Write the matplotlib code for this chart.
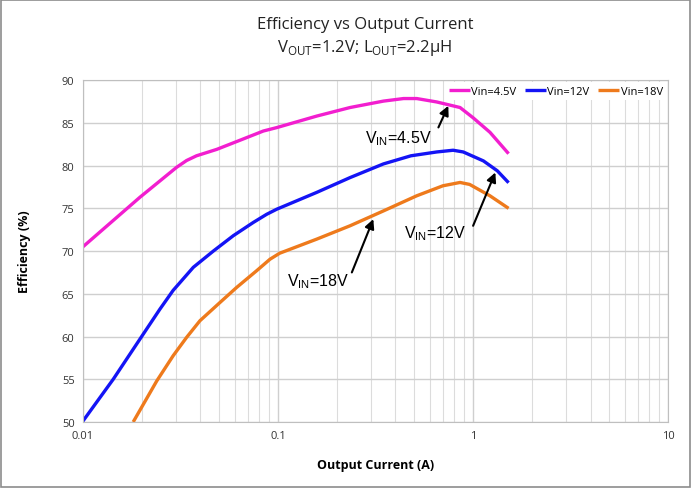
import matplotlib
matplotlib.use('Agg')
import matplotlib.pyplot as plt
from matplotlib.patches import Rectangle

plt.rcParams['font.family'] = ['Open Sans', 'DejaVu Sans']

# data
i_45 = [0.01, 0.0196, 0.0302, 0.034, 0.0382, 0.0485, 0.066,
        0.0841, 0.0985, 0.158, 0.234, 0.347, 0.44, 0.514, 0.651, 0.857,
        1.0, 1.22, 1.52]
eff_45 = [70.5, 76.3, 79.8, 80.6, 81.15, 81.9, 83.1,
          84.05, 84.45, 85.8, 86.8, 87.55, 87.85, 87.85, 87.45, 86.8,
          85.6, 83.9, 81.4]

i_12 = [0.01, 0.0143, 0.0196, 0.0248, 0.029, 0.0314, 0.0368, 0.0466, 0.059,
        0.0747, 0.0874, 0.0985, 0.158, 0.234, 0.347, 0.48, 0.651, 0.79,
        0.89, 1.13, 1.33, 1.52]
eff_12 = [50.1, 55.0, 59.7, 63.2, 65.4, 66.3, 68.1, 70.0, 71.8,
          73.35, 74.3, 74.9, 76.87, 78.6, 80.2, 81.15, 81.6, 81.8,
          81.6, 80.55, 79.4, 78.0]

i_18 = [0.0181, 0.0239, 0.029, 0.034, 0.0398, 0.0505, 0.0614, 0.0777, 0.091,
        0.102, 0.158, 0.234, 0.347, 0.514, 0.70, 0.857, 0.96, 1.22, 1.52]
eff_18 = [50.0, 54.8, 57.75, 59.9, 61.85, 64.0, 65.75, 67.7, 69.05,
          69.75, 71.4, 72.96, 74.7, 76.47, 77.64, 78.03, 77.8, 76.47, 75.0]

series = [('Vin=4.5V', i_45, eff_45, '#f21ecf'),
          ('Vin=12V', i_12, eff_12, '#1414f5'),
          ('Vin=18V', i_18, eff_18, '#ee7a1c')]

x_ticks = [0.01, 0.1, 1, 10]
x_ticklabels = ['0.01', '0.1', '1', '10']
y_ticks = [50, 55, 60, 65, 70, 75, 80, 85, 90]

fig = plt.figure(figsize=(6.91, 4.89), dpi=100)
ax = fig.add_axes([0.120, 0.135, 0.847, 0.699])

for label, x, y, color in series:
    ax.plot(x, y, color=color, lw=2.4, label=label,
            solid_joinstyle='round', solid_capstyle='butt')

ax.set_xscale('log')
ax.set_xlim(0.01, 10)
ax.set_ylim(50, 90)
ax.set_xticks(x_ticks)
ax.set_xticklabels(x_ticklabels)
ax.set_yticks(y_ticks)
ax.tick_params(axis='both', which='both', length=0, labelsize=8,
               colors='#333333', pad=6)
ax.grid(True, which='major', color='#cfcfcf', lw=1.0)
ax.grid(True, which='minor', axis='x', color='#dcdcdc', lw=0.8)
for sp in ax.spines.values():
    sp.set_color('#bfbfbf')

ax.set_xlabel('Output Current (A)', fontweight='bold', fontsize=9, labelpad=12)
ax.set_ylabel('Efficiency (%)', fontweight='bold', fontsize=9, labelpad=22)

leg = ax.legend(loc='upper right', ncol=3, fontsize=8, frameon=True,
                fancybox=False, edgecolor='none', framealpha=1,
                handlelength=1.9, handletextpad=0.1, columnspacing=0.8,
                borderaxespad=0.2, borderpad=0.3)

# arrows and labels
notes = [('V$_{\\mathregular{IN}}$=4.5V', (0.746, 87.0), (0.664, 84.47), (0.279, 83.3)),
         ('V$_{\\mathregular{IN}}$=12V', (1.30, 79.2), (1.0, 72.96), (0.44, 72.2)),
         ('V$_{\\mathregular{IN}}$=18V', (0.308, 73.74), (0.239, 67.5), (0.111, 66.5))]
for txt, head, tail, tpos in notes:
    ax.annotate('', xy=head, xytext=tail,
                arrowprops=dict(arrowstyle='-|>', color='black', lw=1.5,
                                mutation_scale=14, shrinkA=0, shrinkB=0))
    ax.text(tpos[0], tpos[1], txt, fontsize=11.5, va='center', ha='left',
            family=['Liberation Sans', 'DejaVu Sans'])

fig.text(0.528, 0.948, 'Efficiency vs Output Current', ha='center',
         va='center', fontsize=12, color='#222222')
fig.text(0.528, 0.902, 'V$_{\\mathregular{OUT}}$=1.2V; L$_{\\mathregular{OUT}}$=2.2\u00b5H',
         ha='center', va='center', fontsize=12, color='#222222')

fig.patches.append(Rectangle((0.002, 0.003), 0.996, 0.994, transform=fig.transFigure,
                             fill=False, edgecolor='#8c8c8c', lw=1.2))

fig.savefig('out.png', dpi=100)
